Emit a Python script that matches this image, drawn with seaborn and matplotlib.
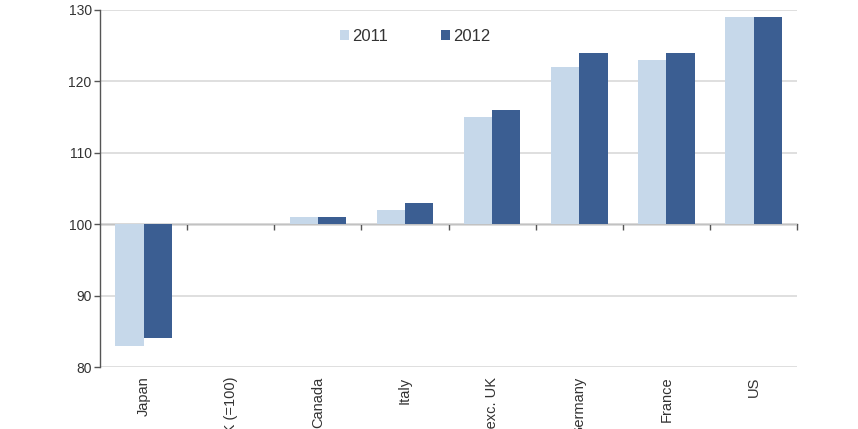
import matplotlib
matplotlib.use('Agg')
import matplotlib.pyplot as plt
import pandas as pd
import seaborn as sns
from matplotlib.ticker import FuncFormatter, FixedLocator

countries = ['Japan', 'UK (=100)', 'Canada', 'Italy', 'G7 exc. UK', 'Germany', 'France', 'US']
values_2011 = [83, 100, 101, 102, 115, 122, 123, 129]
values_2012 = [84, 100, 101, 103, 116, 124, 124, 129]
years = ['2011', '2012']
base = 100

rows = []
for c, v1, v2 in zip(countries, values_2011, values_2012):
    rows.append({'country': c, 'year': '2011', 'diff': v1 - base})
    rows.append({'country': c, 'year': '2012', 'diff': v2 - base})
df = pd.DataFrame(rows)

sns.set_style('white')
plt.rcParams['font.family'] = ['Liberation Sans', 'DejaVu Sans']

fig = plt.figure(figsize=(8.58, 4.29), dpi=100)
ax = fig.add_axes([0.1166, 0.1445, 0.8124, 0.8322])

palette = {'2011': '#c6d8ea', '2012': '#3b5e92'}
sns.barplot(data=df, x='country', y='diff', hue='year', hue_order=years,
            palette=palette, width=0.65, saturation=1, ax=ax, zorder=3,
            edgecolor='none')

ax.set_ylim(-20, 30)
ax.set_xlim(-0.5, len(countries) - 0.5)
ax.set_yticks(range(-20, 31, 10))
ax.yaxis.set_major_formatter(FuncFormatter(lambda y, p: '{:d}'.format(int(y + base))))
ax.grid(axis='y', color='#d9d9d9', linewidth=1.2, zorder=0)
ax.grid(axis='x', visible=False)
ax.set_xlabel('')
ax.set_ylabel('')

for s in ['top', 'right', 'bottom']:
    ax.spines[s].set_visible(False)
ax.spines['left'].set_color('#555555')
ax.spines['left'].set_linewidth(1.0)
ax.tick_params(axis='y', which='both', left=True, length=4, width=1, color='#555555',
               labelsize=10, labelcolor='#333333', pad=2)
ax.tick_params(axis='x', length=0, labelsize=10.5, labelcolor='#333333', pad=7)
for lab in ax.get_xticklabels():
    lab.set_rotation(90)
    lab.set_va('top')

# category axis sitting on the 100 line
sec = ax.secondary_xaxis(0.4)
sec.xaxis.set_major_locator(FixedLocator([i + 0.5 for i in range(len(countries))]))
sec.tick_params(axis='x', length=4, width=1, color='#555555', labelbottom=False, direction='out')
sec.spines['bottom'].set_color('#555555')
sec.spines['bottom'].set_linewidth(1.0)

leg = ax.legend(loc='upper center', bbox_to_anchor=(0.452, 0.99), ncol=2, frameon=False,
                handlelength=0.55, handleheight=0.55, handletextpad=0.15, columnspacing=3.2,
                fontsize=12)
for t in leg.get_texts():
    t.set_color('#333333')

plt.savefig('out.png', dpi=100)
